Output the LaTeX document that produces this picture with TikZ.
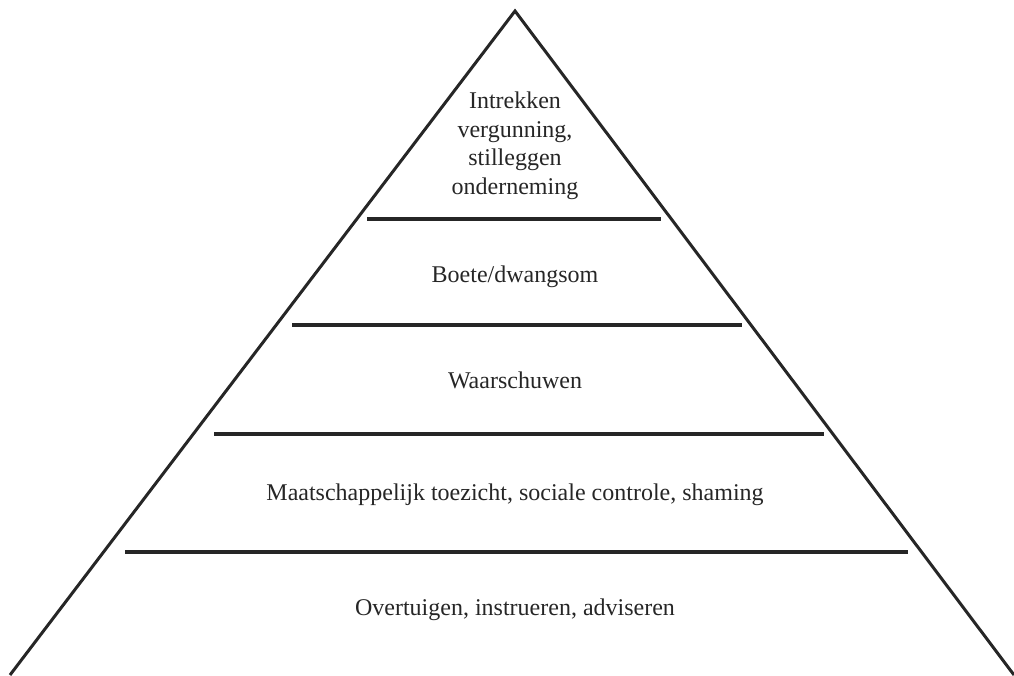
\documentclass[tikz,border=0pt]{standalone}
\usepackage{fontspec}
\setmainfont{Liberation Serif}
\usepackage{tikz}

\begin{document}
\begin{tikzpicture}[x=1pt, y=-1pt,
    rand/.style={line width=3pt, draw=black!85},
    laag/.style={font=\fontsize{24}{28.5}\selectfont, text=black!85, align=center}]
    \useasboundingbox (0,0) rectangle (1014,675);

    % piramide
    \coordinate (top) at (515,11);
    \coordinate (linksonder) at (10,675);
    \coordinate (rechtsonder) at (1014,675);
    \draw[rand, line join=miter] (linksonder) -- (top) -- (rechtsonder);

    % scheidingslijnen
    \draw[rand, line width=3.4pt] (367,219) -- (661,219);
    \draw[rand, line width=3.4pt] (292,325) -- (742,325);
    \draw[rand, line width=3.4pt] (214,434) -- (824,434);
    \draw[rand, line width=3.4pt] (125,552) -- (908,552);

    % teksten per laag
    \node[laag] (intrekken) at (515,146) {Intrekken\\ vergunning,\\ stilleggen\\ onderneming};
    \node[laag] (boete) at (515,277) {Boete/dwangsom};
    \node[laag] (waarschuwen) at (515,380) {Waarschuwen};
    \node[laag] (toezicht) at (515,495) {Maatschappelijk toezicht, sociale controle, shaming};
    \node[laag] (overtuigen) at (515,610) {Overtuigen, instrueren, adviseren};
\end{tikzpicture}
\end{document}
